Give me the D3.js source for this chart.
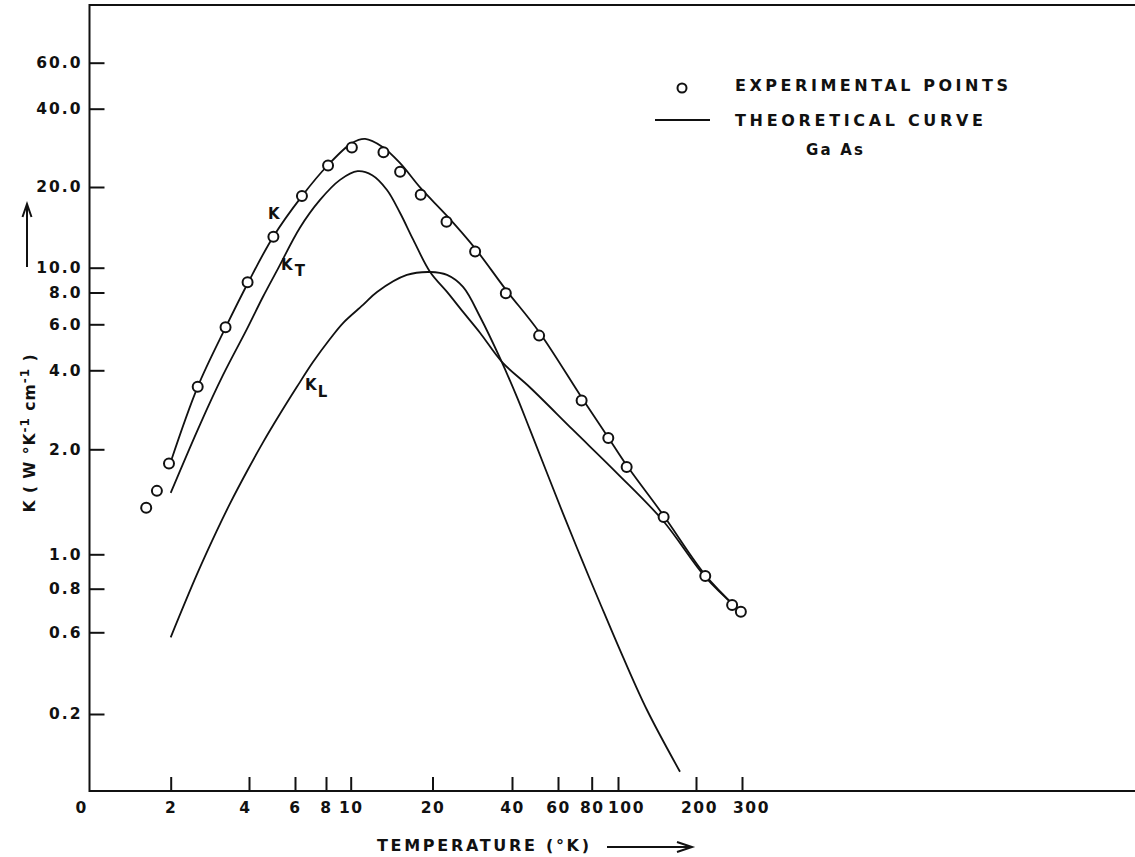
<!DOCTYPE html>
<html>
<head>
<meta charset="utf-8">
<script src="https://cdn.jsdelivr.net/npm/d3@7"></script>
<style>
  html, body { margin: 0; padding: 0; background: #fff; }
  svg { display: block; }
  text { font-family: "DejaVu Sans", sans-serif; font-weight: bold; fill: #111; }
</style>
</head>
<body>
<svg id="chart" width="1135" height="857"></svg>
<script>
// ticks as lettered on the original log paper
const xTicks = [2, 4, 6, 8, 10, 20, 40, 60, 80, 100, 200, 300];
const yTicks = [0.2, 0.6, 0.8, 1, 2, 4, 6, 8, 10, 20, 40, 60];
const yTickLabels = ['0.2', '0.6', '0.8', '1.0', '2.0', '4.0', '6.0', '8.0', '10.0', '20.0', '40.0', '60.0'];

// experimental points, GaAs
const expT = [1.61, 1.77, 1.97, 2.54, 3.25, 3.95, 4.96, 6.40, 8.15, 10.1, 13.2, 15.2,
  18.1, 22.6, 29.0, 37.9, 50.8, 73.4, 92.1, 108, 150, 217, 275, 297];
const expK = [1.36, 1.52, 1.82, 3.46, 5.84, 8.77, 13.05, 18.5, 24.2, 28.4, 27.2, 22.9,
  18.7, 14.85, 11.5, 7.95, 5.43, 3.07, 2.21, 1.78, 1.28, 0.869, 0.718, 0.687];

// theoretical curves [T, K]
const curveK = [[2.0, 1.84], [2.54, 3.46], [3.26, 5.86], [3.98, 8.79], [4.94, 13.0], [6.40, 18.5],
  [8.15, 24.3], [10.1, 29.5], [11.3, 30.6], [13.1, 28.5], [15.2, 24.7], [18.1, 19.8], [22.7, 15.6],
  [29.0, 11.8], [38.0, 8.18], [50.8, 5.61], [73.6, 3.14], [91.8, 2.23], [108, 1.80], [149, 1.30],
  [217, 0.874], [287, 0.704]];
const curveKT = [[2.0, 1.50], [2.59, 2.48], [3.18, 3.84], [3.93, 5.76], [4.52, 7.68], [5.16, 9.9],
  [6.28, 14.1], [7.57, 17.9], [9.08, 21.3], [10.6, 23.0], [12.0, 22.2], [13.6, 19.5], [15.2, 16.0],
  [17.0, 12.7], [19.6, 9.62], [22.7, 8.04], [26.1, 6.71], [30.3, 5.56], [36.7, 4.30], [46.9, 3.44],
  [68.2, 2.37], [99.1, 1.71], [149, 1.25], [217, 0.863], [287, 0.704]];
const curveKL = [[2.0, 0.561], [2.52, 0.876], [3.00, 1.163], [3.38, 1.397], [3.93, 1.73],
  [4.52, 2.12], [5.26, 2.73], [6.11, 3.46], [7.09, 4.30], [8.29, 5.27], [9.33, 6.07], [11.1, 7.15],
  [12.5, 8.04], [16.1, 9.37], [19.6, 9.62], [22.7, 9.37], [26.1, 8.41], [30.3, 6.41], [36.0, 4.46],
  [41.8, 3.16], [46.9, 2.37], [62.6, 1.31], [73.6, 0.964], [85.8, 0.728], [104.5, 0.431],
  [129.4, 0.211], [173.5, 0.092]];

const svg = d3.select('#chart');
const frame = { left: 89.5, top: 5, bottom: 791, right: 1135 };

// the paper was hand-ruled, so each lettered tick gets its own spot
const x = d3.scaleLog().domain(xTicks)
  .range([170.7, 249, 295, 326, 350.7, 432.5, 512, 558, 591.7, 618, 696, 742]);
const y = d3.scaleLog().domain(yTicks)
  .range([714, 632.3, 588.7, 554.3, 449.3, 370.3, 324.3, 292.5, 267.7, 187, 108.7, 62.7]);

// frame
svg.append('path')
  .attr('d', `M${frame.right},${frame.top}H${frame.left}V${frame.bottom}H${frame.right}`)
  .attr('fill', 'none')
  .attr('stroke', '#111')
  .attr('stroke-width', 2);

const yAxis = svg.append('g')
  .attr('transform', `translate(${frame.left},0)`)
  .call(d3.axisLeft(y).tickValues(yTicks).tickFormat((d, i) => yTickLabels[i])
    .tickSizeInner(-15).tickSizeOuter(0).tickPadding(7));
yAxis.select('.domain').remove();
yAxis.selectAll('line').attr('stroke', '#111').attr('stroke-width', 2);
yAxis.selectAll('text').attr('font-size', 15.5).attr('letter-spacing', 2)
  .attr('font-family', '"DejaVu Sans", sans-serif').attr('fill', '#111');

// hand lettering sits a little off some ticks
const xLabelNudge = { 4: -4, 100: 8, 200: 3, 300: 9 };
const xAxis = svg.append('g')
  .attr('transform', `translate(0,${frame.bottom})`)
  .call(d3.axisBottom(x).tickValues(xTicks).tickFormat(d3.format('d'))
    .tickSizeInner(-14).tickSizeOuter(0).tickPadding(11));
xAxis.select('.domain').remove();
xAxis.selectAll('line').attr('stroke', '#111').attr('stroke-width', 2);
xAxis.selectAll('text').attr('font-size', 15.5).attr('letter-spacing', 1.5)
  .attr('dx', (d) => xLabelNudge[d] || 0)
  .attr('font-family', '"DejaVu Sans", sans-serif').attr('fill', '#111');

svg.append('text')
  .attr('x', 81).attr('y', frame.bottom + 11).attr('dy', '0.71em')
  .attr('text-anchor', 'middle').attr('font-size', 15.5)
  .text('0');

// curves
const line = d3.line()
  .x((d) => x(d[0]))
  .y((d) => y(d[1]))
  .curve(d3.curveCatmullRom.alpha(0.5));

[curveK, curveKT, curveKL].forEach((c) => {
  svg.append('path')
    .attr('d', line(c))
    .attr('fill', 'none')
    .attr('stroke', '#111')
    .attr('stroke-width', 1.8);
});

// experimental points
svg.append('g')
  .selectAll('circle')
  .data(expT.map((t, i) => [t, expK[i]]))
  .join('circle')
  .attr('cx', (d) => x(d[0]))
  .attr('cy', (d) => y(d[1]))
  .attr('r', 5)
  .attr('fill', '#fff')
  .attr('stroke', '#111')
  .attr('stroke-width', 2);

// curve labels
svg.append('text').attr('x', 268).attr('y', 219).attr('font-size', 15).text('K');
const kt = svg.append('text').attr('x', 281).attr('y', 270).attr('font-size', 15);
kt.append('tspan').text('K');
kt.append('tspan').attr('dx', 2).attr('dy', 6).text('T');
const kl = svg.append('text').attr('x', 305).attr('y', 390).attr('font-size', 15);
kl.append('tspan').text('K');
kl.append('tspan').attr('dx', 1).attr('dy', 7).text('L');

// legend
svg.append('circle')
  .attr('cx', 682).attr('cy', 88).attr('r', 4.5)
  .attr('fill', '#fff').attr('stroke', '#111').attr('stroke-width', 2);
svg.append('text').attr('x', 735).attr('y', 91).attr('font-size', 16)
  .attr('textLength', 273).attr('lengthAdjust', 'spacing').text('EXPERIMENTAL POINTS');
svg.append('line')
  .attr('x1', 655).attr('x2', 710).attr('y1', 120).attr('y2', 120)
  .attr('stroke', '#111').attr('stroke-width', 1.8);
svg.append('text').attr('x', 735).attr('y', 126).attr('font-size', 16)
  .attr('textLength', 248).attr('lengthAdjust', 'spacing').text('THEORETICAL CURVE');
svg.append('text').attr('x', 806).attr('y', 155).attr('font-size', 15)
  .attr('textLength', 57).attr('lengthAdjust', 'spacing').text('Ga As');

// axis titles
svg.append('text').attr('x', 377).attr('y', 851).attr('font-size', 16)
  .attr('textLength', 212).attr('lengthAdjust', 'spacing').text('TEMPERATURE (°K)');
svg.append('path')
  .attr('d', 'M607,847H690M677,842L692,847L677,852')
  .attr('fill', 'none').attr('stroke', '#111').attr('stroke-width', 2);

const yl = svg.append('text')
  .attr('transform', 'translate(35,433) rotate(-90)')
  .attr('text-anchor', 'middle')
  .attr('font-size', 15.5)
  .attr('letter-spacing', 1);
yl.append('tspan').text('K ( W °K');
yl.append('tspan').attr('dy', -6).attr('font-size', 12).text('-1');
yl.append('tspan').attr('dy', 6).text(' cm');
yl.append('tspan').attr('dy', -6).attr('font-size', 12).text('-1');
yl.append('tspan').attr('dy', 6).text(' )');

svg.append('path')
  .attr('d', 'M27,267V207M22.5,217L27,204L31.5,217')
  .attr('fill', 'none').attr('stroke', '#111').attr('stroke-width', 2);
</script>
</body>
</html>
